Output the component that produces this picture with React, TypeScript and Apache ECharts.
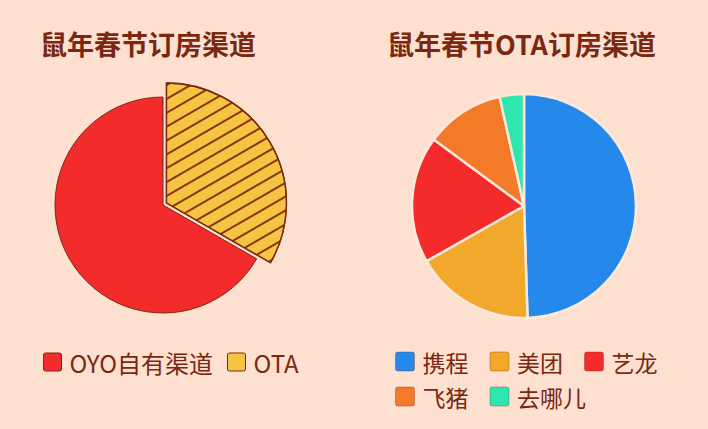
import { useEffect, useRef } from "react"
import * as echarts from "echarts"

const BG = "#fde0cf"
const BROWN = "#7a2812"

// left chart: 鼠年春节订房渠道
const channelNames = ["OYO自有渠道", "OTA"]
const channelValues = [66.7, 33.3]
const channelColors = ["#f42b2b", "#f5c443"]

// right chart: 鼠年春节OTA订房渠道
const otaNames = ["携程", "美团", "艺龙", "飞猪", "去哪儿"]
const otaValues = [49.5, 17.3, 18.3, 11.4, 3.5]
const otaColors = ["#2589eb", "#f2a92b", "#f42b2b", "#f27a29", "#2ee6b0"]

// slightly rounded square for legend icons
const ICON = "path://M2,0H16A2,2,0,0,1,18,2V16A2,2,0,0,1,16,18H2A2,2,0,0,1,0,16V2A2,2,0,0,1,2,0Z"

export default function App() {
  const chartRef = useRef<HTMLDivElement>(null)

  useEffect(() => {
    document.body.style.margin = "0"
    if (!chartRef.current) return
    const chart = echarts.init(chartRef.current, undefined, { renderer: "svg" })

    // OTA slice runs clockwise from the top, OYO takes the rest
    const total = channelValues[0] + channelValues[1]
    const split = 90 - (360 * channelValues[1]) / total

    const option: echarts.EChartsOption = {
      animation: false,
      backgroundColor: BG,
      textStyle: { fontFamily: "'Noto Sans CJK SC', 'Noto Sans', sans-serif" },
      title: [
        {
          text: "鼠年春节订房渠道",
          left: 40,
          top: 30,
          padding: 0,
          textStyle: { color: BROWN, fontSize: 27, fontWeight: "bold" },
        },
        {
          text: "鼠年春节OTA订房渠道",
          left: 387,
          top: 30,
          padding: 0,
          textStyle: { color: BROWN, fontSize: 27, fontWeight: "bold" },
        },
      ],
      legend: [
        {
          data: channelNames,
          left: 43,
          top: 350,
          padding: 0,
          icon: ICON,
          itemWidth: 18,
          itemHeight: 18,
          itemGap: 14,
          itemStyle: { borderColor: BROWN, borderWidth: 1, decal: "none" as any },
          textStyle: { color: BROWN, fontSize: 24, padding: [0, 0, 0, 3] },
        },
        {
          data: otaNames.slice(0, 3),
          left: 395,
          top: 350,
          padding: 0,
          icon: ICON,
          itemWidth: 19,
          itemHeight: 19,
          itemGap: 21,
          itemStyle: { borderColor: "rgba(122,40,18,0.35)", borderWidth: 1 },
          textStyle: { color: BROWN, fontSize: 23, padding: [0, 0, 0, 3] },
        },
        {
          data: otaNames.slice(3),
          left: 395,
          top: 385,
          padding: 0,
          icon: ICON,
          itemWidth: 19,
          itemHeight: 19,
          itemGap: 21,
          itemStyle: { borderColor: "rgba(122,40,18,0.35)", borderWidth: 1 },
          textStyle: { color: BROWN, fontSize: 23, padding: [0, 0, 0, 3] },
        },
      ],
      series: [
        {
          type: "pie",
          center: [163, 205],
          radius: 108,
          startAngle: split,
          endAngle: split - (360 * channelValues[0]) / total,
          label: { show: false },
          labelLine: { show: false },
          silent: true,
          data: [
            {
              name: channelNames[0],
              value: channelValues[0],
              itemStyle: { color: channelColors[0], borderColor: BROWN, borderWidth: 1 },
            },
          ],
        },
        {
          type: "pie",
          center: [163, 205],
          radius: 120,
          startAngle: 90,
          endAngle: split,
          selectedMode: "single",
          selectedOffset: 4,
          label: { show: false },
          labelLine: { show: false },
          silent: true,
          data: [
            {
              name: channelNames[1],
              value: channelValues[1],
              selected: true,
              itemStyle: {
                color: channelColors[1],
                borderColor: BROWN,
                borderWidth: 1.3,
                decal: {
                  symbol: "rect",
                  symbolSize: 1,
                  color: "#8a3410",
                  dashArrayX: [1, 0],
                  dashArrayY: [1.3, 9.7],
                  rotation: -Math.PI / 6,
                },
              },
            },
          ],
        },
        {
          type: "pie",
          center: [524, 206],
          radius: 112,
          startAngle: 90,
          label: { show: false },
          labelLine: { show: false },
          itemStyle: { borderColor: "#fde9dc", borderWidth: 2.5 },
          data: otaNames.map((name, i) => ({
            name,
            value: otaValues[i],
            itemStyle: { color: otaColors[i] },
          })),
        },
      ],
    }

    chart.setOption(option)
    return () => chart.dispose()
  }, [])

  return <div ref={chartRef} style={{ width: 708, height: 429 }} />
}
